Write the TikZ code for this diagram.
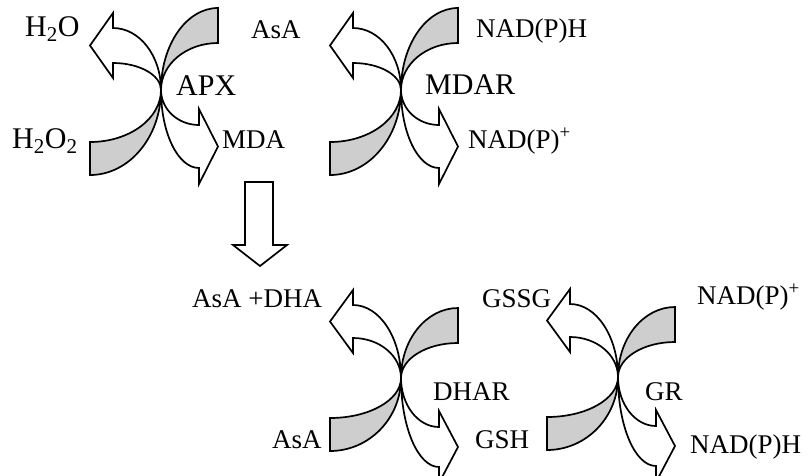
\documentclass[tikz,border=0pt]{standalone}
\usepackage{fontspec}
\setmainfont{Liberation Serif}
\definecolor{bandgray}{RGB}{206,206,206}
\tikzset{
  % quarter ellipse: vertical tangent at start, horizontal tangent at end
  vh/.style n args={4}{insert path={.. controls (#1,{#2+0.5523*(#4-#2)}) and ({#3+0.5523*(#1-#3)},#4) .. (#3,#4)}},
  % quarter ellipse: horizontal tangent at start, vertical tangent at end
  hv/.style n args={4}{insert path={.. controls ({#1+0.5523*(#3-#1)},#2) and (#3,{#4+0.5523*(#2-#4)}) .. (#3,#4)}},
  outl/.style={draw=black, line width=1.7pt, line join=miter, miter limit=10},
  whitearrow/.style={outl, fill=white},
  grayband/.style={outl, fill=bandgray},
  lbl/.style={inner sep=0pt, anchor=base west, font=\fontsize{27}{27}\selectfont},
  biglbl/.style={lbl, font=\fontsize{30}{30}\selectfont},
  % crossed pair of curved arrows around an enzyme; origin = crossing point
  % #1,#2 upper band end (outer, inner)   #3,#4 lower band end (inner, outer)
  % #5,#6 upper-left arrow shaft (outer, inner)   #7,#8 lower-right arrow shaft (inner, outer)
  pics/redox/.style n args={8}{code={
    \path[whitearrow] (0,0) [vh={0}{0}{-48}{#5}] -- (-48,{#5-15}) -- (-71,{(#5+#6)/2})
      -- (-48,{#6+15}) -- (-48,#6) [hv={-48}{#6}{0}{0}] -- cycle;
    \path[whitearrow] (0,0) [vh={0}{0}{38}{#7}] -- (38,{#7-16}) -- (57,{(#7+#8)/2})
      -- (38,{#8+16}) -- (38,#8) [hv={38}{#8}{0}{0}] -- cycle;
    \path[grayband] (0,0) [vh={0}{0}{57}{#1}] -- (57,#2) [hv={57}{#2}{0}{0}] -- cycle;
    \path[grayband] (0,0) [vh={0}{0}{-71}{#3}] -- (-71,#4) [hv={-71}{#4}{0}{0}] -- cycle;
  }},
}
\begin{document}
\begin{tikzpicture}[x=1pt,y=-1pt]
  \useasboundingbox (0,0) rectangle (808,475);
  \clip (0,0) rectangle (808,475);

  % upper row: APX and MDAR
  \pic at (161,90) {redox={-82}{-47}{52}{85}{-62}{-27}{35}{78}};
  \pic at (401,90) {redox={-82}{-47}{52}{85}{-62}{-27}{35}{78}};
  % lower row: DHAR and GR
  \pic at (401,378) {redox={-70}{-35}{40}{73}{-73}{-40}{49}{89}};
  \pic at (618,377) {redox={-70}{-35}{40}{73}{-73}{-40}{49}{89}};

  % block arrow between the rows
  \path[whitearrow] (245,182) -- (273,182) -- (273,245) -- (287,245) -- (260,266)
    -- (233,245) -- (245,245) -- cycle;

  % labels
  \node[biglbl] (h2o)    at (25,36)   {H\textsubscript{2}O};
  \node[biglbl] (h2o2)   at (12,148)  {H\textsubscript{2}O\textsubscript{2}};
  \node[lbl]    (asa1)   at (251,38)  {AsA};
  \node[lbl]    (nadph1) at (476,37)  {NAD(P)H};
  \node[biglbl] (apx)    at (176,95)  {APX};
  \node[biglbl] (mdar)   at (425,94)  {MDAR};
  \node[lbl]    (mda)    at (222,148) {MDA};
  \node[lbl]    (nadp1)  at (468,148) {NAD(P)\textsuperscript{+}};
  \node[lbl]    (asadha) at (192,307) {AsA +DHA};
  \node[lbl]    (gssg)   at (482,307) {GSSG};
  \node[lbl]    (nadp2)  at (697,304) {NAD(P)\textsuperscript{+}};
  \node[lbl]    (dhar)   at (433,400) {DHAR};
  \node[lbl]    (gr)     at (645,400) {GR};
  \node[lbl]    (asa2)   at (272,448) {AsA};
  \node[lbl]    (gsh)    at (475,448) {GSH};
  \node[lbl]    (nadph2) at (690,453) {NAD(P)H};
\end{tikzpicture}
\end{document}
